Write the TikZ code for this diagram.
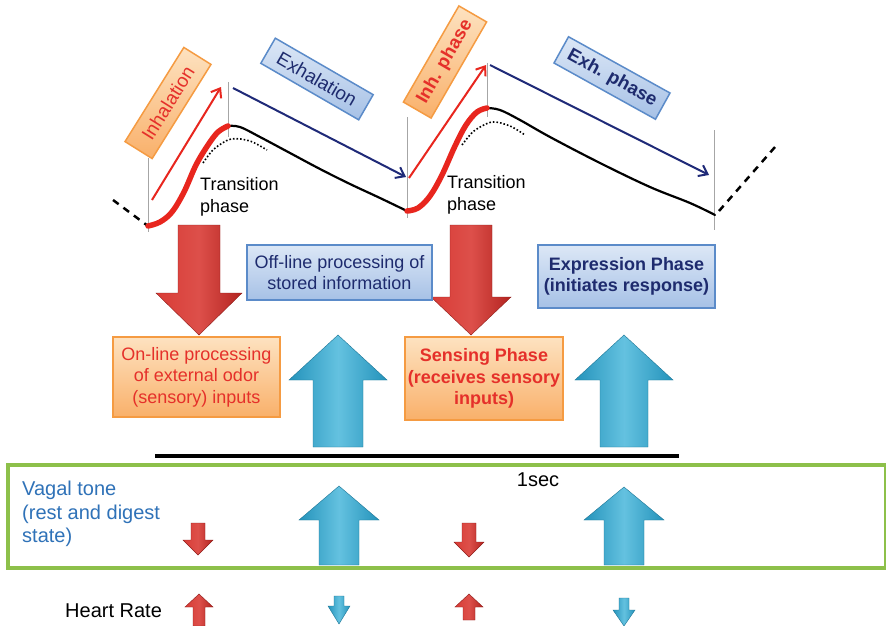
\documentclass[tikz,border=0pt]{standalone}
\usepackage{fontspec}
\setmainfont{Liberation Sans}
\usetikzlibrary{arrows.meta}
\definecolor{obord}{HTML}{F59B42}
\definecolor{otop}{HTML}{FDE2C0}
\definecolor{obot}{HTML}{F9B06A}
\definecolor{bbord}{HTML}{5B8BC9}
\definecolor{btop}{HTML}{DCE7F6}
\definecolor{bbot}{HTML}{A6C1E6}
\definecolor{rtxt}{HTML}{E5302A}
\definecolor{btxt}{HTML}{1E2B6E}
\definecolor{curvered}{HTML}{E8261E}
\definecolor{arrred}{HTML}{D93C36}
\definecolor{arrreddk}{HTML}{B32420}
\definecolor{teal}{HTML}{3DB2D8}
\definecolor{tealdk}{HTML}{2493BB}
\definecolor{gbord}{HTML}{8DC04A}
\definecolor{vblue}{HTML}{2F72B8}
\definecolor{navy}{HTML}{1F2A78}
\newcommand\blockarrow[7]{%
  \path[#7] (#1-#5,#2) -- (#1+#5,#2) -- (#1+#5,#3) -- (#1+#6,#3) -- (#1,#4)
    -- (#1-#6,#3) -- (#1-#5,#3) -- cycle;}
\tikzset{
  txt/.style={font=\fontsize{18}{21.5}\selectfont},
  bigtxt/.style={font=\fontsize{20}{23.5}\selectfont},
  obox/.style={txt, draw=obord, line width=1.5pt, top color=otop, bottom color=obot, text=rtxt, align=center, inner sep=2pt},
  bbox/.style={txt, draw=bbord, line width=1.5pt, top color=btop, bottom color=bbot, text=btxt, align=center, inner sep=2pt},
  redarr/.style={left color=arrred, right color=arrreddk, middle color=arrred!90!white, draw=arrreddk!80!black, line width=0.4pt},
  tealarr/.style={left color=tealdk, right color=tealdk, middle color=teal!80!white, draw=tealdk!80!black, line width=0.4pt},
  vline/.style={draw=gray!70, line width=0.8pt},
  inarrow/.style={draw=curvered, line width=2pt, -{Straight Barb[length=8pt,width=12pt,line width=2pt]}},
  exarrow/.style={draw=navy, line width=2pt, -{Straight Barb[length=8pt,width=12pt,line width=2pt]}},
  redcurve/.style={draw=curvered, line width=5.5pt, line cap=round},
  blackcurve/.style={draw=black, line width=2.2pt, line cap=round},
  dashcurve/.style={draw=black, line width=2.5pt, dash pattern=on 7pt off 6pt},
  dotcurve/.style={draw=black, line width=1.6pt, dash pattern=on 1.6pt off 2pt}
}
\begin{document}
\begin{tikzpicture}[x=1pt,y=-1pt]
\useasboundingbox[fill=white] (0,0) rectangle (886,626);

% key points
\coordinate (t1) at (148,226);
\coordinate (p1) at (228,126);
\coordinate (t2) at (407,211);
\coordinate (p2) at (487,108);
\coordinate (t3) at (715,215);

% vertical grey lines
\coordinate (v1a) at (148,158); \coordinate (v1b) at (148,232);
\coordinate (v2a) at (228,82);  \coordinate (v2b) at (228,137);
\coordinate (v3a) at (407,117); \coordinate (v3b) at (407,218);
\coordinate (v4a) at (487,63);  \coordinate (v4b) at (487,117);
\coordinate (v5a) at (714,130); \coordinate (v5b) at (714,230);
\foreach \a/\b in {v1a/v1b,v2a/v2b,v3a/v3b,v4a/v4b,v5a/v5b} \draw[vline] (\a) -- (\b);

% curve
\coordinate (d0) at (113,200);
\draw[dashcurve] (d0) -- (t1);
\draw[blackcurve] plot[smooth, tension=0.6] coordinates {(228,126) (240,127) (260,137) (290,153) (320,169) (350,184) (380,198) (407,211)};
\draw[blackcurve] plot[smooth, tension=0.6] coordinates {(487,108) (500,110) (520,120) (550,137) (600,163) (650,187) (690,203) (715,215)};
\draw[redcurve] plot[smooth, tension=0.6] coordinates {(148,226) (160,222) (172,212) (184,192) (196,165) (208,145) (218,132) (228,126)};
\draw[redcurve] plot[smooth, tension=0.6] coordinates {(407,211) (418,208) (430,196) (442,175) (455,146) (466,125) (477,112) (487,108)};
\coordinate (d1) at (775,147);
\coordinate (d1s) at (719,211);
\draw[dashcurve] (d1s) -- (d1);

% dotted arcs
\draw[dotcurve] plot[smooth] coordinates {(203,163) (214,149) (231,139) (250,141) (267,150)};
\draw[dotcurve] plot[smooth] coordinates {(462,145) (474,131) (492,122) (510,126) (525,135)};

% thin direction arrows
\coordinate (ia1) at (152,200); \coordinate (ia2) at (221,87);
\coordinate (ea1) at (233,88);  \coordinate (ea2) at (406,177);
\coordinate (ib1) at (409,178); \coordinate (ib2) at (486,65);
\coordinate (eb1) at (490,65);  \coordinate (eb2) at (709,175);
\draw[inarrow] (ia1) -- (ia2);
\draw[inarrow] (ib1) -- (ib2);
\draw[exarrow] (ea1) -- (ea2);
\draw[exarrow] (eb1) -- (eb2);

% rotated phase labels
\node[obox, rotate=58, minimum width=111, minimum height=32, font=\fontsize{19}{22}\selectfont] (inh) at (168,103) {Inhalation};
\node[bbox, rotate=-30, minimum width=113, minimum height=29, font=\fontsize{19}{22}\selectfont] (exh) at (317,79) {Exhalation};
\node[obox, rotate=60, minimum width=111, minimum height=32, font=\fontsize{18.5}{21.5}\selectfont\bfseries] (inhp) at (445,62) {Inh. phase};
\node[bbox, rotate=-29, minimum width=116, minimum height=30, font=\fontsize{18.5}{21.5}\selectfont\bfseries] (exhp) at (612,78) {Exh. phase};

% transition texts
\node[txt, anchor=west, align=left, inner sep=0pt] (tr1) at (200,197) {Transition\\phase};
\node[txt, anchor=west, align=left, inner sep=0pt] (tr2) at (447,195) {Transition\\phase};

% big red down arrows
\blockarrow{199}{225}{293}{335}{21}{43}{redarr}
\blockarrow{471}{225}{297}{335}{21}{40}{redarr}

% big teal up arrows
\blockarrow{338}{447}{380}{335}{25}{49}{tealarr}
\blockarrow{624}{447}{380}{335}{24}{49}{tealarr}

% middle boxes
\node[bbox, minimum width=185, minimum height=55] (off) at (339.5,272.5) {Off-line processing of\\stored information};
\node[bbox, minimum width=177, minimum height=63, font=\fontsize{18}{21.5}\selectfont\bfseries] (expr) at (626.5,276.5) {Expression Phase\\(initiates response)};
\node[obox, minimum width=167, minimum height=80] (on) at (196.5,377) {On-line processing\\of external odor\\(sensory) inputs};
\node[obox, minimum width=158, minimum height=83, font=\fontsize{18}{21.5}\selectfont\bfseries] (sens) at (484,378.5) {Sensing Phase\\(receives sensory\\inputs)};

% time bar
\coordinate (b1) at (155,456); \coordinate (b2) at (679,456);
\draw[line width=4pt] (b1) -- (b2);

% green box
\node[draw=gbord, line width=4pt, fill=white, minimum width=878, minimum height=103, anchor=north west, inner sep=0pt] (vag) at (6,463) {};
\node[bigtxt] (sec) at (538,480) {1sec};
\node[bigtxt, text=vblue, anchor=north west, align=left, inner sep=0pt] (vt) at (22,481) {Vagal tone\\(rest and digest\\state)};

% vagal arrows
\blockarrow{198}{523}{540}{555}{7}{15}{redarr}
\blockarrow{469}{523}{542}{557}{7}{15}{redarr}
\blockarrow{339}{565}{520}{486}{20}{40}{tealarr}
\blockarrow{624}{565}{520}{487}{20}{40}{tealarr}

% heart rate
\node[bigtxt, anchor=west, inner sep=0pt] (hr) at (65,611) {Heart Rate};
\blockarrow{199}{626}{607}{594}{6}{14}{redarr}
\blockarrow{469}{620}{607}{594}{6}{14}{redarr}
\blockarrow{339}{596}{606}{624}{5}{11}{tealarr}
\blockarrow{624}{598}{610}{626}{5}{11}{tealarr}
\end{tikzpicture}
\end{document}
